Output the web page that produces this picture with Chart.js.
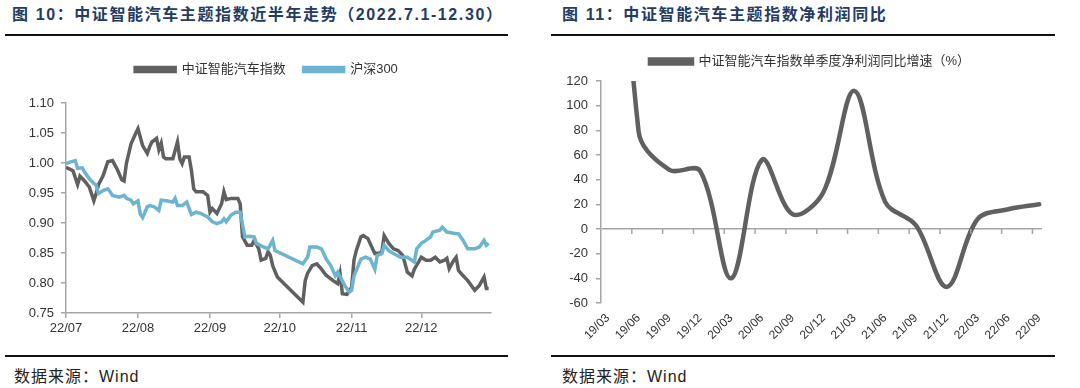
<!DOCTYPE html>
<html lang="zh-CN">
<head>
<meta charset="UTF-8">
<title>中证智能汽车主题指数</title>
<script src="https://cdn.jsdelivr.net/npm/chart.js"></script>
<style>
  body { margin: 0; width: 1080px; height: 388px; background: #fff; position: relative; overflow: hidden;
         font-family: "Liberation Sans", Arial, "Noto Sans CJK SC", sans-serif; }
  .title { position: absolute; top: 5px; line-height: 20px; font-weight: bold; font-size: 16px;
           letter-spacing: 1.6px; color: #243b64; white-space: nowrap; }
  .rule { position: absolute; height: 2px; background: #111; }
  .source { position: absolute; top: 367px; line-height: 20px; font-size: 16px; letter-spacing: 1px; color: #222; }
  .box { position: absolute; top: 40px; }
</style>
</head>
<body>
<div class="title" style="left:12px">图 10：中证智能汽车主题指数近半年走势（2022.7.1-12.30）</div>
<div class="rule" style="left:5px; width:503px; top:34px"></div>
<div class="title" style="left:562px">图 11：中证智能汽车主题指数净利润同比</div>
<div class="rule" style="left:551px; width:504px; top:34px"></div>

<div class="box" style="left:0"><canvas id="left" width="530" height="300"></canvas></div>
<div class="box" style="left:540px"><canvas id="right" width="540" height="315"></canvas></div>

<div class="rule" style="left:5px; width:503px; top:355px"></div>
<div class="rule" style="left:551px; width:504px; top:355px"></div>
<div class="source" style="left:14px">数据来源：Wind</div>
<div class="source" style="left:562px">数据来源：Wind</div>

<script>
// 图10: 日期为2022-07-01起的天数
const monthStarts = [0, 31, 62, 92, 123, 153];
const monthLabels = ['22/07', '22/08', '22/09', '22/10', '22/11', '22/12'];

const carDays = [0,3,5,6,8,10,11,12,13,14,16,18,20,22,24,25,26,28,30,31,33,35,36,37,39,40,41,42,43,46,
  48,49,50,51,53,54,55,56,59,61,62,63,65,67,68,69,71,74,75,76,78,80,81,83,84,86,87,88,89,91,
  102,103,104,106,108,110,112,115,117,118,119,121,123,124,125,127,128,130,132,133,135,136,137,139,141,143,145,147,149,150,
  153,155,157,159,161,163,164,165,167,168,169,171,173,176,178,180,181,182];
const carIndex = [0.993,0.987,0.964,0.978,0.970,0.960,0.949,0.937,0.949,0.964,0.979,1.002,1.004,0.990,0.972,0.970,0.999,1.032,1.049,1.057,
  1.029,1.016,1.027,1.035,1.041,1.022,1.033,1.010,1.007,1.007,1.035,1.007,0.999,1.010,1.010,0.988,0.957,0.952,0.952,0.946,
  0.918,0.924,0.916,0.932,0.952,0.939,0.941,0.941,0.932,0.877,0.863,0.863,0.871,0.857,0.838,0.841,0.852,0.846,0.829,0.810,
  0.768,0.804,0.816,0.829,0.832,0.823,0.813,0.804,0.799,0.816,0.782,0.781,0.793,0.838,0.854,0.877,0.879,0.874,0.857,0.849,
  0.850,0.852,0.879,0.866,0.857,0.854,0.846,0.818,0.812,0.823,0.843,0.838,0.838,0.843,0.835,0.838,0.841,0.824,0.838,0.843,
  0.821,0.812,0.804,0.788,0.796,0.810,0.791,0.791];

const hs300Days = [0,2,4,5,7,8,10,12,13,14,16,18,19,20,23,25,26,28,29,31,32,33,35,36,38,40,41,43,46,47,
  48,50,52,54,56,58,61,63,65,67,68,69,71,73,75,77,79,81,82,85,87,89,90,
  102,104,105,108,110,112,114,116,117,120,122,123,124,125,127,129,131,133,134,136,137,139,141,144,147,150,
  151,153,155,157,158,161,162,164,167,169,171,173,176,178,180,181,182];
const hs300 = [0.999,1.002,1.004,0.991,0.992,0.985,0.974,0.966,0.963,0.949,0.954,0.957,0.952,0.946,0.943,0.946,0.941,0.938,0.932,0.937,
  0.915,0.909,0.927,0.929,0.927,0.921,0.938,0.937,0.935,0.941,0.929,0.929,0.935,0.914,0.918,0.916,0.910,0.902,0.899,0.902,
  0.907,0.902,0.913,0.918,0.918,0.877,0.878,0.877,0.866,0.860,0.857,0.871,0.854,
  0.832,0.843,0.860,0.860,0.857,0.840,0.829,0.812,0.818,0.796,0.785,0.788,0.812,0.821,0.840,0.843,0.840,0.823,0.846,0.849,
  0.863,0.854,0.849,0.843,0.843,0.835,0.857,0.866,0.871,0.877,0.885,0.888,0.893,0.885,0.883,0.882,0.871,0.857,0.857,0.860,
  0.871,0.863,0.866];

// 图11: 单季度净利润同比增速(%)，19/03超出坐标范围
const quarters = ['19/03','19/06','19/09','19/12','20/03','20/06','20/09','20/12','21/03','21/06','21/09','21/12','22/03','22/06','22/09'];
const profitYoY = [500, 79, 48, 47, -40, 56, 12, 30, 112, 22, 3, -47, 8, 16, 20];

const axisGray = '#a6a6a6';
const darkGray = '#606060';
const lightBlue = '#6cb4cf';
Chart.defaults.font.family = '"Liberation Sans", Arial, "Noto Sans CJK SC", sans-serif';
Chart.defaults.color = '#333';

const toXY = (xs, ys) => xs.map((x, i) => ({ x: x, y: ys[i] }));

// 固定图例高度
const legendHeight = {
  id: 'legendHeight',
  afterInit(chart, args, opts) {
    const fit = chart.legend.fit;
    chart.legend.fit = function () { fit.call(this); this.height = opts.h; };
  }
};
// 图例水平微调
const legendShift = {
  id: 'legendShift',
  afterLayout(chart, args, opts) {
    chart.legend.left += opts.dx;
    chart.legend.right += opts.dx;
  }
};

new Chart(document.getElementById('left'), {
  type: 'line',
  data: {
    datasets: [
      { label: '中证智能汽车指数', data: toXY(carDays, carIndex), borderColor: darkGray, backgroundColor: darkGray,
        borderWidth: 3.5, pointRadius: 0, tension: 0, order: 1 },
      { label: '沪深300', data: toXY(hs300Days, hs300), borderColor: lightBlue, backgroundColor: lightBlue,
        borderWidth: 3.5, pointRadius: 0, tension: 0, order: 0 }
    ]
  },
  options: {
    responsive: false,
    animation: false,
    layout: { padding: { top: 5, right: 39, left: 0, bottom: 0 } },
    plugins: {
      legendHeight: { h: 58 },
      legendShift: { dx: 21 },
      tooltip: { enabled: false },
      legend: {
        labels: { boxWidth: 40, boxHeight: 4, padding: 18, font: { size: 13 }, color: '#333',
                  sort: (a, b) => a.datasetIndex - b.datasetIndex }
      }
    },
    scales: {
      x: {
        type: 'linear', min: 0, max: 183,
        afterBuildTicks: s => { s.ticks = monthStarts.map(v => ({ value: v })); },
        afterFit: s => { s.height = 27; },
        ticks: { callback: v => monthLabels[monthStarts.indexOf(v)], font: { size: 13 }, padding: 3, maxRotation: 0 },
        grid: { drawOnChartArea: false, color: axisGray, tickLength: 5, lineWidth: 1.5 },
        border: { color: axisGray, width: 1.5 }
      },
      y: {
        min: 0.75, max: 1.10,
        afterFit: s => { s.width = 66; },
        ticks: { stepSize: 0.05, callback: v => v.toFixed(2), font: { size: 13 }, padding: 7 },
        grid: { drawOnChartArea: false, color: axisGray, tickLength: 5, lineWidth: 1.5 },
        border: { color: axisGray, width: 1.5 }
      }
    }
  },
  plugins: [legendHeight, legendShift]
});

// 零轴上的刻度线
const zeroTicks = {
  id: 'zeroTicks',
  afterDatasetsDraw(chart) {
    const { ctx, scales: { x, y } } = chart;
    const y0 = y.getPixelForValue(0);
    ctx.save();
    ctx.strokeStyle = axisGray;
    ctx.lineWidth = 1.5;
    for (let i = 1; i < quarters.length; i++) {
      const px = x.getPixelForValue(i - 0.22);
      ctx.beginPath(); ctx.moveTo(px, y0); ctx.lineTo(px, y0 + 5); ctx.stroke();
    }
    ctx.restore();
  }
};

new Chart(document.getElementById('right'), {
  type: 'line',
  data: {
    datasets: [
      { label: '中证智能汽车指数单季度净利润同比增速（%）', data: toXY(quarters.map((q, i) => i), profitYoY),
        borderColor: darkGray, backgroundColor: darkGray, borderWidth: 4.5, pointRadius: 0,
        tension: 0.35, borderCapStyle: 'round' }
    ]
  },
  options: {
    responsive: false,
    animation: false,
    layout: { padding: { top: 5, right: 38, left: 0, bottom: 0 } },
    plugins: {
      legendHeight: { h: 36 },
      legendShift: { dx: 19 },
      tooltip: { enabled: false },
      legend: { labels: { boxWidth: 42, boxHeight: 4, padding: 10, font: { size: 13 }, color: '#333' } }
    },
    scales: {
      x: {
        type: 'linear', min: -0.22, max: 14.09,
        afterBuildTicks: s => { s.ticks = quarters.map((q, i) => ({ value: i })); },
        afterFit: s => { s.height = 52; },
        ticks: { callback: v => quarters[v], font: { size: 12 }, minRotation: 45, maxRotation: 45, padding: 0, autoSkip: false },
        grid: { display: false },
        border: { display: false }
      },
      y: {
        min: -60, max: 120,
        afterFit: s => { s.width = 61; },
        ticks: { stepSize: 20, font: { size: 13 }, padding: 8 },
        grid: { color: c => c.tick.value === 0 ? axisGray : 'rgba(0,0,0,0)', tickColor: axisGray,
                tickLength: 5, lineWidth: 1.5 },
        border: { color: axisGray, width: 1.5 }
      }
    }
  },
  plugins: [legendHeight, legendShift, zeroTicks]
});
</script>
</body>
</html>
